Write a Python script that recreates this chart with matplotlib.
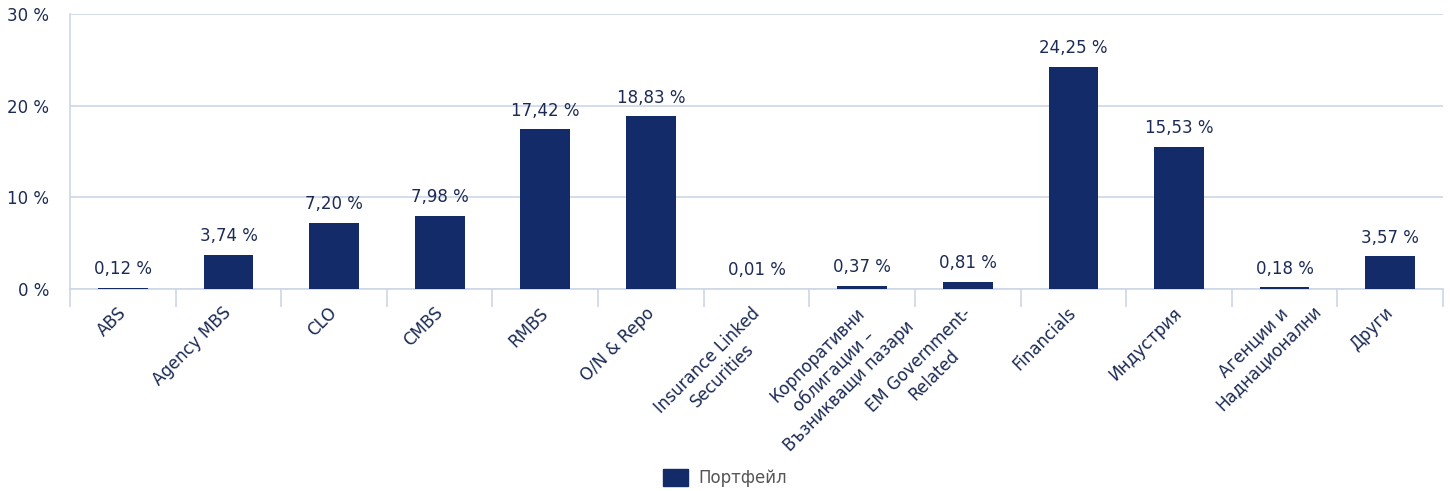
import matplotlib.pyplot as plt
import matplotlib.transforms as mtransforms
import numpy as np
from matplotlib.patches import Patch

categories = ["ABS", "Agency MBS", "CLO", "CMBS", "RMBS", "O/N & Repo",
              "Insurance Linked\nSecurities",
              "Корпоративни\nоблигации –\nВъзникващи пазари",
              "EM Government-\nRelated", "Financials", "Индустрия",
              "Агенции и\nНаднационални", "Други"]
values = [0.12, 3.74, 7.20, 7.98, 17.42, 18.83, 0.01, 0.37, 0.81, 24.25, 15.53, 0.18, 3.57]
yticks = [0, 10, 20, 30]
series_name = "Портфейл"

bar_color = "#132c69"
text_color = "#1c2b55"
grid_color = "#cdd7e6"
fs = 12

plt.rcParams['font.family'] = ['DejaVu Sans']

fig = plt.figure(figsize=(14.5, 4.91), dpi=100)
ax = fig.add_axes([0.0483, 0.4114, 0.9469, 0.5601])

x = np.arange(len(categories))
bars = ax.bar(x, values, width=0.47, color=bar_color, zorder=3)

# value labels
for xi, v in zip(x, values):
    ax.annotate(("%.2f %%" % v).replace(".", ","), (xi, v), xytext=(0, 7),
                textcoords="offset points", ha="center", va="bottom",
                fontsize=fs, color=text_color)

ax.set_xlim(-0.5, len(categories) - 0.5)
ax.set_ylim(0, 30)
ax.set_yticks(yticks)
ax.set_yticklabels(["%d %%" % t for t in yticks], fontsize=fs, color=text_color)
ax.yaxis.grid(True, color=grid_color, linewidth=1.2, zorder=0)
ax.tick_params(axis="y", length=0, pad=15)

ax.set_xticks(x)
ax.set_xticklabels([])
ax.set_xticks(np.arange(len(categories) + 1) - 0.5, minor=True)
ax.tick_params(axis="x", which="major", length=0)
ax.tick_params(axis="x", which="minor", length=13, width=1.2, color=grid_color)

for s in ["top", "right"]:
    ax.spines[s].set_visible(False)
ax.spines["left"].set_color(grid_color)
ax.spines["left"].set_linewidth(1.2)
ax.spines["bottom"].set_color(grid_color)
ax.spines["bottom"].set_linewidth(1.2)

# category labels: first line ends at the category centre, other lines centred on it
fig.canvas.draw()
renderer = fig.canvas.get_renderer()

def line_width(s):
    t = ax.text(0, 0, s, fontsize=fs)
    w = t.get_window_extent(renderer).width
    t.remove()
    return w

c45 = np.cos(np.radians(45))
for xi, lab in zip(x, categories):
    lines = lab.split("\n")
    widths = [line_width(l) for l in lines]
    shift = (max(widths) - widths[0]) / 2.0  # pixels
    off = mtransforms.ScaledTranslation((shift * c45 - 6) / fig.dpi,
                                        (shift * c45 - 15) / fig.dpi,
                                        fig.dpi_scale_trans)
    ax.text(xi, 0, lab, transform=ax.get_xaxis_transform() + off,
            rotation=45, rotation_mode="anchor", ha="right", va="top",
            multialignment="center", linespacing=1.3, fontsize=fs,
            color=text_color)

fig.legend(handles=[Patch(color=bar_color, label=series_name)], loc="center",
           bbox_to_anchor=(0.5, 0.027), frameon=False, fontsize=fs,
           handlelength=1.5, handleheight=1.2, handletextpad=0.6,
           labelcolor="#555555")

fig.savefig("out.png", dpi=100)
